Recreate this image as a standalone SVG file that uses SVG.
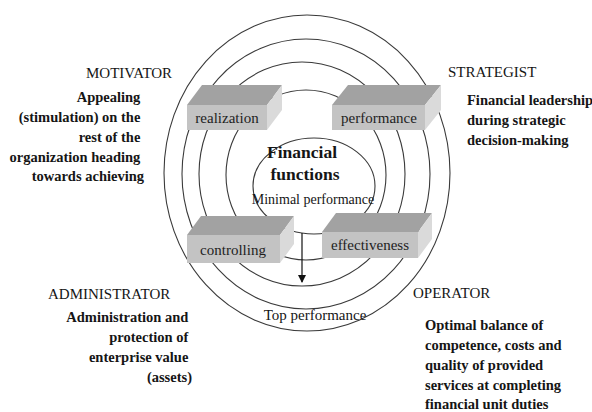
<svg xmlns="http://www.w3.org/2000/svg" width="592" height="412" viewBox="0 0 592 412">
<defs>
<style>
.ring{fill:none;stroke:#3a3a3a;stroke-width:1.1}
.top{fill:#a2a2a2}
.front{fill:#c3c3c3}
.side{fill:#dadada}
text{font-family:'Liberation Serif',Tinos,'Times New Roman','DejaVu Serif',serif}
.box{font-size:15px;fill:#1e1e1e;text-anchor:middle}
.role{font-size:15px;fill:#151515}
.desc{font-size:14.5px;font-weight:bold;fill:#151515}
.ctr{fill:#151515;text-anchor:middle}
</style>
<marker id="ah" markerWidth="8" markerHeight="8" refX="7" refY="4" orient="auto" markerUnits="userSpaceOnUse">
<path d="M0,0 L8,4 L0,8 Z" fill="#111"/>
</marker>
</defs>
<rect width="592" height="412" fill="#ffffff"/>
<g id="rings">
<ellipse class="ring" cx="307" cy="173" rx="143" ry="158"/>
<ellipse class="ring" cx="306" cy="174" rx="124" ry="135"/>
<ellipse class="ring" cx="302" cy="174" rx="103" ry="112"/>
<ellipse class="ring" cx="306" cy="175" rx="80" ry="85"/>
<ellipse class="ring" cx="314" cy="186" rx="61" ry="48"/>
</g>
<g id="connectors">
<line x1="302" y1="233" x2="302" y2="282" stroke="#111" stroke-width="1.2" marker-end="url(#ah)"/>
</g>
<g id="realization">
<polygon class="top" points="187,105 202,85 282,85 267,105"/>
<polygon class="side" points="267,105 282,85 282,110 267,130"/>
<rect class="front" x="187" y="105" width="80" height="25"/>
<text class="box" x="227" y="123">realization</text>
</g>
<g id="performance">
<polygon class="top" points="332,105 348,85 441,85 425,105"/>
<polygon class="side" points="425,105 441,85 441,110 425,130"/>
<rect class="front" x="332" y="105" width="93" height="25"/>
<text class="box" x="379" y="123">performance</text>
</g>
<g id="controlling">
<polygon class="top" points="187,235 201,216 294,216 280,235"/>
<polygon class="side" points="280,235 294,216 294,244 280,263"/>
<rect class="front" x="187" y="235" width="93" height="28"/>
<text class="box" x="233" y="255">controlling</text>
</g>
<g id="effectiveness">
<polygon class="top" points="322,232 336,213 432,213 418,232"/>
<polygon class="side" points="418,232 432,213 432,239 418,258"/>
<rect class="front" x="322" y="232" width="96" height="26"/>
<text class="box" x="370" y="250">effectiveness</text>
</g>
<g id="center">
<text class="ctr" x="302" y="158" font-size="17.5" font-weight="bold">Financial</text>
<text class="ctr" x="305" y="180" font-size="17.5" font-weight="bold">functions</text>
<text class="ctr" x="313" y="204" font-size="14">Minimal performance</text>
<text class="ctr" x="315" y="320" font-size="15">Top performance</text>
</g>
<g id="motivator">
<text class="role" x="86" y="78">MOTIVATOR</text>
<text class="desc" text-anchor="end">
<tspan x="144" y="102">Appealing</tspan>
<tspan x="144" y="122">(stimulation) on the</tspan>
<tspan x="144" y="142">rest of the</tspan>
<tspan x="144" y="162">organization heading</tspan>
<tspan x="144" y="181">towards achieving</tspan>
</text>
</g>
<g id="strategist">
<text class="role" x="448" y="77">STRATEGIST</text>
<text class="desc">
<tspan x="467" y="105">Financial leadership</tspan>
<tspan x="467" y="125">during strategic</tspan>
<tspan x="467" y="145">decision-making</tspan>
</text>
</g>
<g id="administrator">
<text class="role" x="48" y="299">ADMINISTRATOR</text>
<text class="desc" text-anchor="end">
<tspan x="192" y="322">Administration and</tspan>
<tspan x="192" y="342">protection of</tspan>
<tspan x="192" y="362">enterprise value</tspan>
<tspan x="192" y="382">(assets)</tspan>
</text>
</g>
<g id="operator">
<text class="role" x="413" y="298">OPERATOR</text>
<text class="desc">
<tspan x="425" y="330">Optimal balance of</tspan>
<tspan x="425" y="350">competence, costs and</tspan>
<tspan x="425" y="370">quality of provided</tspan>
<tspan x="425" y="390">services at completing</tspan>
<tspan x="425" y="409">financial unit  duties</tspan>
</text>
</g>
</svg>
